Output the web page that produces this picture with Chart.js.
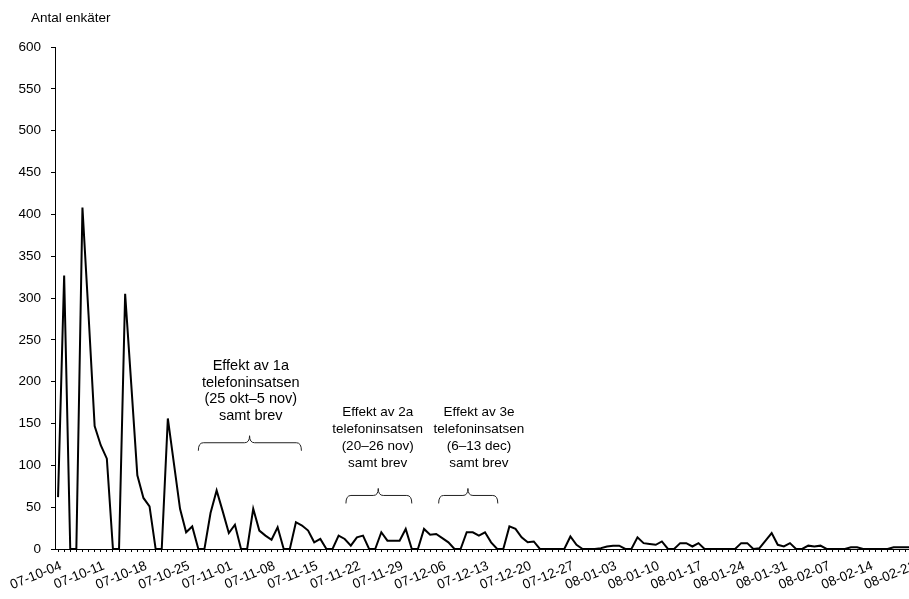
<!DOCTYPE html>
<html>
<head>
<meta charset="utf-8">
<script src="https://cdn.jsdelivr.net/npm/chart.js@4"></script>
<style>
  html, body { margin: 0; padding: 0; background: #fff; overflow: hidden; }
  #wrap { position: absolute; left: 0; top: 0; width: 922px; height: 599px; }
</style>
</head>
<body>
<div id="wrap"><canvas id="enkater"></canvas></div>
<script>
/* INKOMNA ENKATER PER DAG, 07-10-04 -- 08-02-21 */

const startdatum = [2007, 9, 4];

// en rad per vecka (tor-ons)
const antal = [
  62, 327, 0, 0, 408, 280, 147,
  124, 108, 0, 0, 305, 197, 88,
  61, 51, 0, 0, 156, 102, 48,
  20, 27, 0, 0, 43, 70, 45,
  19, 29, 0, 0, 48, 22, 16,
  11, 26, 0, 0, 32, 28, 22,
  8, 12, 0, 0, 16, 12, 4,
  14, 16, 0, 0, 20, 10, 10,
  10, 24, 0, 0, 24, 17, 18,
  13, 8, 0, 0, 20, 20, 16,
  20, 8, 0, 0, 27, 24, 14,
  8, 9, 0, 0, 0, 0, 0,
  15, 5, 0, 0, 0, 1, 3,
  4, 4, 0, 0, 14, 7, 6,
  5, 9, 0, 0, 7, 7, 3,
  7, 0, 0, 0, 0, 0, 0,
  7, 7, 0, 1, 10, 19, 5,
  3, 7, 0, 0, 4, 3, 4,
  0, 0, 0, 0, 2, 2, 0,
  0, 0, 0, 0, 2, 2, 2,
  2
];

const veckoetiketter = [
  '07-10-04', '07-10-11', '07-10-18', '07-10-25', '07-11-01', '07-11-08',
  '07-11-15', '07-11-22', '07-11-29', '07-12-06', '07-12-13', '07-12-20',
  '07-12-27', '08-01-03', '08-01-10', '08-01-17', '08-01-24', '08-01-31',
  '08-02-07', '08-02-14', '08-02-21'
];

const yticks = [0, 50, 100, 150, 200, 250, 300, 350, 400, 450, 500, 550, 600];

const effekter = [
  { rader: ['Effekt av 1a', 'telefoninsatsen', '(25 okt\u20135 nov)', 'samt brev'],
    text: 31.6, mitt: 31.4, fran: 23.0, till: 39.9, klammer: 127, texttopp: 219, storlek: 14.5 },
  { rader: ['Effekt av 2a', 'telefoninsatsen', '(20\u201326 nov)', 'samt brev'],
    text: 52.4, mitt: 52.5, fran: 47.2, till: 58.0, klammer: 64, texttopp: 163, storlek: 13.5 },
  { rader: ['Effekt av 3e', 'telefoninsatsen', '(6\u201313 dec)', 'samt brev'],
    text: 69.0, mitt: 67.2, fran: 62.4, till: 72.1, klammer: 64, texttopp: 163, storlek: 13.5 }
];

const dagar = antal.map(function (v, i) {
  const d = new Date(Date.UTC(startdatum[0], startdatum[1], startdatum[2] + i));
  const yy = String(d.getUTCFullYear()).slice(2);
  const mm = String(d.getUTCMonth() + 1).padStart(2, '0');
  const dd = String(d.getUTCDate()).padStart(2, '0');
  return yy + '-' + mm + '-' + dd;
});

const typsnitt = 'Liberation Sans, Arial, sans-serif';

const rubrikplugin = {
  id: 'rubrik',
  afterDraw(chart) {
    const ctx = chart.ctx;
    ctx.save();
    ctx.fillStyle = '#000';
    ctx.font = '13.5px ' + typsnitt;
    ctx.textAlign = 'left';
    ctx.textBaseline = 'middle';
    ctx.fillText('Antal enk\u00e4ter', 31, 18);
    ctx.restore();
  }
};

const klammerplugin = {
  id: 'klammer',
  afterDraw(chart) {
    const ctx = chart.ctx;
    const x = chart.scales.x;
    const y = chart.scales.y;
    ctx.save();
    effekter.forEach(function (e) {
      const xt = x.getPixelForValue(e.text);
      const xm = x.getPixelForValue(e.mitt);
      const x1 = x.getPixelForValue(e.fran);
      const x2 = x.getPixelForValue(e.till);
      const yb = y.getPixelForValue(e.klammer);
      const yt = y.getPixelForValue(e.texttopp);

      ctx.fillStyle = '#000';
      ctx.font = e.storlek + 'px ' + typsnitt;
      ctx.textAlign = 'center';
      ctx.textBaseline = 'middle';
      e.rader.forEach(function (r, i) {
        ctx.fillText(r, xt, yt + i * 16.8);
      });

      // klammer
      ctx.strokeStyle = '#222';
      ctx.lineWidth = 1;
      ctx.beginPath();
      ctx.moveTo(x1, yb + 8);
      ctx.quadraticCurveTo(x1, yb, x1 + 5, yb);
      ctx.lineTo(xm - 5, yb);
      ctx.quadraticCurveTo(xm, yb, xm, yb - 7);
      ctx.quadraticCurveTo(xm, yb, xm + 5, yb);
      ctx.lineTo(x2 - 5, yb);
      ctx.quadraticCurveTo(x2, yb, x2, yb + 8);
      ctx.stroke();
    });
    ctx.restore();
  }
};

const dataenkater = {
  labels: dagar,
  datasets: [{
    label: 'Antal enkäter',
    data: antal,
    borderColor: '#000',
    backgroundColor: '#000',
    borderWidth: 2,
    pointRadius: 0,
    tension: 0,
    fill: false
  }]
};

const configenkater = {
  type: 'line',
  data: dataenkater,
  options: {
    responsive: true,
    maintainAspectRatio: false,
    animation: false,
    layout: { padding: { top: 47, right: 7, left: 0, bottom: 0 } },
    plugins: {
      legend: { display: false },
      tooltip: { enabled: false },
      title: { display: false }
    },
    scales: {
      x: {
        type: 'category',
        offset: true,
        grid: { drawOnChartArea: false, color: '#000', tickLength: 3, tickWidth: 1 },
        border: { color: '#000', width: 1 },
        ticks: {
          autoSkip: false,
          minRotation: 22,
          maxRotation: 22,
          padding: 6,
          labelOffset: 3,
          color: '#000',
          font: { family: typsnitt, size: 13.5 },
          callback: function (v, i) {
            return i % 7 === 0 ? veckoetiketter[i / 7] : '';
          }
        },
        afterFit: function (s) {
          s.height = 50;
          s.paddingLeft = 0;
          s.paddingRight = 0;
        }
      },
      y: {
        min: 0,
        max: 600,
        afterBuildTicks: function (s) {
          s.ticks = yticks.map(function (v) { return { value: v }; });
        },
        grid: { drawOnChartArea: false, color: '#000', tickLength: 4 },
        border: { color: '#000', width: 1 },
        ticks: {
          padding: 10,
          color: '#000',
          font: { family: typsnitt, size: 13.5 }
        },
        afterFit: function (s) {
          s.width = 55;
        }
      }
    }
  },
  plugins: [rubrikplugin, klammerplugin]
};

const chartenkater = new Chart(
  document.getElementById('enkater'),
  configenkater
);
</script>
</body>
</html>
